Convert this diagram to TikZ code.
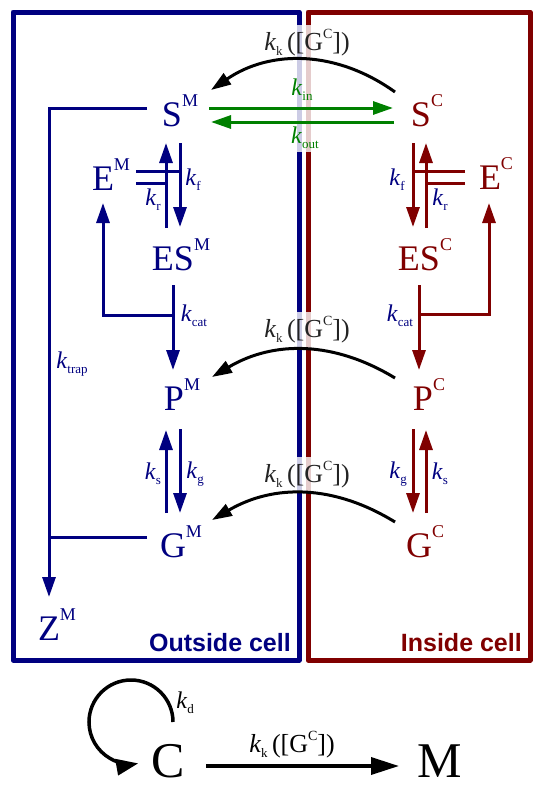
\documentclass[tikz,border=0pt]{standalone}
\usepackage{fontspec}
\setmainfont{Liberation Serif}
\newfontfamily\cellfont{Liberation Sans}
\usetikzlibrary{arrows.meta,calc}

\definecolor{outblue}{RGB}{0,0,128}
\definecolor{inred}{RGB}{128,0,0}
\definecolor{kgreen}{RGB}{0,128,0}
\definecolor{kgray}{RGB}{35,35,35}

\newcommand{\spc}[2]{#1\raisebox{20pt}{\fontsize{18}{18}\selectfont #2}}
\newcommand{\rate}[1]{\textit{k}\raisebox{-5pt}{\fontsize{13}{13}\selectfont #1}}
\newcommand{\kkG}{\rate{k}\,([G\raisebox{12pt}{\fontsize{14}{14}\selectfont C}])}

\tikzset{
  species/.style={inner sep=0pt, anchor=base, font=\fontsize{36}{40}\selectfont},
  ratelbl/.style={inner sep=1pt, font=\fontsize{24}{28}\selectfont},
  kklbl/.style={inner sep=1pt, font=\fontsize{26}{30}\selectfont},
  veiled/.style={fill=white, fill opacity=0.8, text opacity=1, inner sep=5pt},
  flow/.style={line width=3pt, -{Triangle[length=20pt,width=13pt]}},
  bond/.style={line width=3pt},
  wall/.style={line width=5pt, line join=round},
  cellname/.style={anchor=east, inner sep=0pt, font=\cellfont\bfseries\fontsize{25}{28}\selectfont},
}

\begin{document}
\begin{tikzpicture}[x=1pt,y=1pt]
		\useasboundingbox (0,0) rectangle (548,-787);

		% compartments
		\draw[wall, outblue] (299,-660) -- (299,-12) -- (13,-12) -- (13,-660) -- cycle;
		\draw[wall, inred] (308,-660) -- (308,-12) -- (530,-12) -- (530,-660) -- cycle;
		\fill[white, opacity=0.8] (292,-25) rectangle (315,-152);
		\node[cellname, outblue] (outlbl) at (291,-643) {Outside cell};
		\node[cellname, inred] (inlbl) at (522,-643) {Inside cell};

		% species
		\node[species, outblue] (SM) at (180,-126) {\spc{S}{M}};
		\node[species, outblue] (EM) at (111,-190) {\spc{E}{M}};
		\node[species, outblue] (ESM) at (181,-270) {\spc{ES}{M}};
		\node[species, outblue] (PM) at (182,-410) {\spc{P}{M}};
		\node[species, outblue] (GM) at (181,-557) {\spc{G}{M}};
		\node[species, outblue] (ZM) at (57,-640) {\spc{Z}{M}};
		\node[species, inred] (SC) at (427,-126) {\spc{S}{C}};
		\node[species, inred] (EC) at (496,-189) {\spc{E}{C}};
		\node[species, inred] (ESC) at (425,-270) {\spc{ES}{C}};
		\node[species, inred] (PC) at (429,-410) {\spc{P}{C}};
		\node[species, inred] (GC) at (425,-557) {\spc{G}{C}};

		% rate labels
		\node[kklbl, kgray] (kktop) at (307,-43) {\kkG};
		\node[kklbl, kgray, veiled] (kkmid) at (307,-330) {\kkG};
		\node[kklbl, kgray, veiled] (kklow) at (307,-475) {\kkG};
		\node[ratelbl, kgreen] (kin) at (302,-90) {\rate{in}};
		\node[ratelbl, kgreen] (kout) at (305,-138) {\rate{out}};
		\node[ratelbl, outblue] (kfM) at (193,-180) {\rate{f}};
		\node[ratelbl, outblue] (krM) at (153,-200) {\rate{r}};
		\node[ratelbl, outblue] (kfC) at (397,-180) {\rate{f}};
		\node[ratelbl, outblue] (krC) at (440,-200) {\rate{r}};
		\node[ratelbl, outblue] (kcatM) at (194,-316) {\rate{cat}};
		\node[ratelbl, outblue] (kcatC) at (400,-316) {\rate{cat}};
		\node[ratelbl, outblue] (ktrap) at (72,-364) {\rate{trap}};
		\node[ratelbl, outblue] (ksM) at (153,-474) {\rate{s}};
		\node[ratelbl, outblue] (kgM) at (195,-474) {\rate{g}};
		\node[ratelbl, outblue] (kgC) at (398,-474) {\rate{g}};
		\node[ratelbl, outblue] (ksC) at (440,-474) {\rate{s}};

		% transport across the membrane
		\draw[flow, kgreen] ($(SM.base)+(29,18)$) -- ($(SC.base)+(-34,18)$);
		\draw[flow, kgreen] ($(SC.base)+(-33,4)$) -- ($(SM.base)+(31,4)$);
		\draw[flow, black] ($(SC.base)+(-32,34)$) to[bend right=35] ($(SM.base)+(31,36)$);
		\draw[flow, black] ($(PC.base)+(-34,32)$) to[bend right=31] ($(PM.base)+(30,33)$);
		\draw[flow, black] ($(GC.base)+(-30,35)$) to[bend right=31] ($(GM.base)+(31,37)$);

		% outside cell
		\begin{scope}[outblue]
			\draw[flow] ($(ESM.base)+(-15,42)$) -- ($(SM.base)+(-14,-17)$);
			\draw[flow] ($(SM.base)+(0,-17)$) -- ($(ESM.base)+(-1,43)$);
			\draw[bond] ($(EM.base)+(25,19)$) -- ($(SM.base)+(0,-45)$);
			\draw[bond] ($(EM.base)+(25,7)$) -- ($(SM.base)+(-14,-57)$);
			\draw[flow] ($(ESM.base)+(-8,-15)$) -- ($(PM.base)+(-9,40)$);
			\draw[flow] ($(ESM.base)+(-8,-45)$) -| ($(EM.base)+(-8,-13)$);
			\draw[flow] ($(GM.base)+(-15,44)$) -- ($(PM.base)+(-16,-20)$);
			\draw[flow] ($(PM.base)+(-2,-19)$) -- ($(GM.base)+(-1,44)$);
			\draw[flow] ($(SM.base)+(-33,18)$) -| ($(ZM.base)+(-8,43)$);
			\draw[bond] ($(GM.base)+(-34,20)$) -- ($(ZM.base)+(-8,103)$);
		\end{scope}

		% inside cell
		\begin{scope}[inred]
			\draw[flow] ($(SC.base)+(-14,-17)$) -- ($(ESC.base)+(-12,43)$);
			\draw[flow] ($(ESC.base)+(1,42)$) -- ($(SC.base)+(-1,-17)$);
			\draw[bond] ($(EC.base)+(-31,18)$) -- ($(SC.base)+(-14,-45)$);
			\draw[bond] ($(EC.base)+(-31,6)$) -- ($(SC.base)+(-1,-57)$);
			\draw[flow] ($(ESC.base)+(-6,-15)$) -- ($(PC.base)+(-10,40)$);
			\draw[flow] ($(ESC.base)+(-6,-44)$) -| ($(EC.base)+(-7,-14)$);
			\draw[flow] ($(PC.base)+(-16,-19)$) -- ($(GC.base)+(-12,44)$);
			\draw[flow] ($(GC.base)+(1,44)$) -- ($(PC.base)+(-3,-20)$);
		\end{scope}

		% fate of the cell
		\node[species, font=\fontsize{50}{54}\selectfont] (C) at (168,-777) {C};
		\node[species, font=\fontsize{50}{54}\selectfont] (M) at (440,-777) {M};
		\node[kklbl] (kkbot) at (292,-745) {\kkG};
		\node[ratelbl] (kd) at (185,-703) {\rate{d}};
		\draw[line width=3.5pt, -{Triangle[length=28pt,width=17pt]}] ($(C.base)+(38,11)$) -- ($(M.base)+(-41,11)$);
		\draw[line width=3.5pt, -{Triangle[length=22pt,width=16pt]}] ($(C.base)+(5,55)$) arc[start angle=0, end angle=280, radius=42];
	\end{tikzpicture}
\end{document}
